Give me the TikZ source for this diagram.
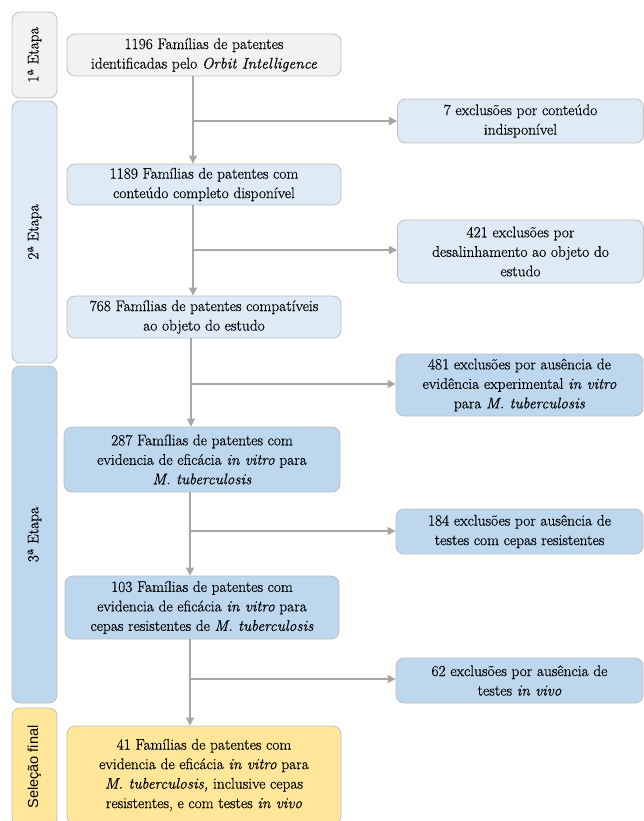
\documentclass[tikz,border=0pt]{standalone}
\usepackage{fontspec}
\newfontfamily\serfont{Latin Modern Roman}[FakeBold = 0.4]
\newfontfamily\selfont{Liberation Sans}
\usetikzlibrary{arrows.meta}

\definecolor{boxgray}{HTML}{F2F2F2}
\definecolor{boxlight}{HTML}{DEEBF7}
\definecolor{boxblue}{HTML}{BDD7EE}
\definecolor{boxyellow}{HTML}{FFE699}
\definecolor{edgegray}{HTML}{BFBFBF}
\definecolor{linkgray}{HTML}{A6A6A6}

\tikzset{
  box/.style = {draw = edgegray, line width = 0.8pt, rounded corners = 8pt,
    align = center, inner sep = 2pt, text = black,
    font = \serfont\fontsize{15.4}{19.5}\selectfont},
  mainbox/.style = {box, minimum width = 274pt},
  exbox/.style = {box, minimum width = 246pt},
  stagebox/.style = {box, rotate = 90, minimum height = 45pt},
  link/.style = {draw = linkgray, line width = 1.3pt,
    -{Triangle[length = 8pt, width = 8pt]}},
}

\begin{document}
\begin{tikzpicture}[x = 1pt, y = -1pt]
    \useasboundingbox (0, 0) rectangle (644, 821);

    % stages on the left
    \node[stagebox, fill = boxgray,   minimum width = 86pt]  (st1) at (34.5, 55)    {1ª Etapa};
    \node[stagebox, fill = boxlight,  minimum width = 262pt] (st2) at (34.5, 232)   {2ª Etapa};
    \node[stagebox, fill = boxblue,   minimum width = 337pt] (st3) at (34.5, 534.5) {3ª Etapa};
    \node[stagebox, fill = boxyellow, minimum width = 118pt,
          font = \selfont\fontsize{14.5}{18}\selectfont]      (st4) at (34.5, 767)   {Seleção final};

    % main column
    \node[mainbox, fill = boxgray,  minimum height = 42pt] (fam1196) at (204, 55)
        {1196 Famílias de patentes\\identificadas pelo \textit{Orbit Intelligence}};
    \node[mainbox, fill = boxlight, minimum height = 41pt] (fam1189) at (204, 184.5)
        {1189 Famílias de patentes com\\conteúdo completo disponível};
    \node[mainbox, fill = boxlight, minimum height = 42pt] (fam768) at (204, 317)
        {768 Famílias de patentes compatíveis\\ao objeto do estudo};
    \node[mainbox, fill = boxblue, minimum width = 276pt, minimum height = 65pt] (fam287) at (202, 459.5)
        {287 Famílias de patentes com\\evidencia de eficácia \textit{in vitro} para\\\textit{M. tuberculosis}};
    \node[mainbox, fill = boxblue, minimum height = 63pt] (fam103) at (202, 607.5)
        {103 Famílias de patentes com\\evidencia de eficácia \textit{in vitro} para\\cepas resistentes de \textit{M. tuberculosis}};
    \node[mainbox, fill = boxyellow, minimum height = 98pt, inner sep = 4pt] (fam41) at (204, 775)
        {41 Famílias de patentes com\\evidencia de eficácia \textit{in vitro} para\\\textit{M. tuberculosis,} inclusive cepas\\resistentes, e com testes \textit{in vivo}};

    % exclusions on the right
    \node[exbox, fill = boxlight, minimum height = 44pt] (exc7) at (520.5, 121)
        {7 exclusões por conteúdo\\indisponível};
    \node[exbox, fill = boxlight, minimum height = 63pt] (exc421) at (520.5, 251.5)
        {421 exclusões por\\desalinhamento ao objeto do\\estudo};
    \node[exbox, fill = boxblue, minimum width = 247pt, minimum height = 62pt] (exc481) at (519.5, 385)
        {481 exclusões por ausência de\\evidência experimental \textit{in vitro}\\para \textit{M. tuberculosis}};
    \node[exbox, fill = boxblue, minimum width = 247pt, minimum height = 45pt] (exc184) at (519.5, 531.5)
        {184 exclusões por ausência de\\testes com cepas resistentes};
    \node[exbox, fill = boxblue, minimum width = 247pt, minimum height = 45pt] (exc62) at (519.5, 680.5)
        {62 exclusões por ausência de\\testes \textit{in vivo}};

    % junctions of the flow
    \coordinate (j1) at (193, 121);
    \coordinate (j2) at (193, 250);
    \coordinate (j3) at (191, 384);
    \coordinate (j4) at (190, 531);
    \coordinate (j5) at (190, 679);

    \draw[link] (fam1196.south -| j1) -- (fam1189.north -| j1);
    \draw[link] (j1) -- (j1 -| exc7.west);
    \draw[link] (fam1189.south -| j2) -- (fam768.north -| j2);
    \draw[link] (j2) -- (j2 -| exc421.west);
    \draw[link] (fam768.south -| j3) -- (fam287.north -| j3);
    \draw[link] (j3) -- (j3 -| exc481.west);
    \draw[link] (fam287.south -| j4) -- (fam103.north -| j4);
    \draw[link] (j4) -- (j4 -| exc184.west);
    \draw[link] (fam103.south -| j5) -- (fam41.north -| j5);
    \draw[link] (j5) -- (j5 -| exc62.west);
\end{tikzpicture}
\end{document}
